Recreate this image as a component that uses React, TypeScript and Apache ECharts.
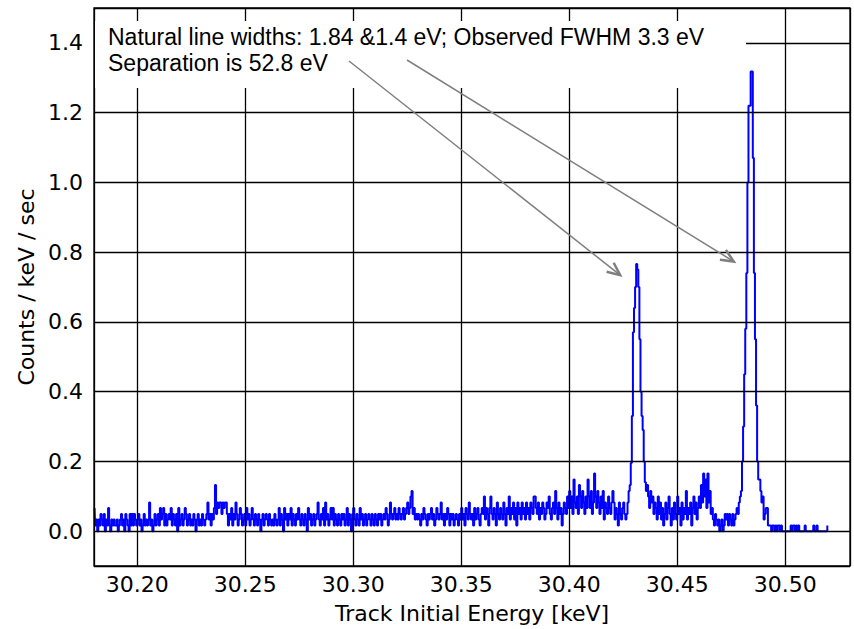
import React, { useEffect, useRef } from "react";
import * as echarts from "echarts";

// Histogram bins: 0.5 eV wide, starting at 30.180 keV
const binStart = 30.18;
const binWidth = 0.0005;

// 30.180 - 30.250 keV
const segA = [
  0.066, 0.016, 0.033, 0, 0.033, 0.016, 0.049, 0.033, 0.016, 0.049,
  0, 0.033, 0.016, 0.066, 0.016, 0, 0.033, 0.016, 0.033, 0.016,
  0.016, 0.033, 0, 0.016, 0.033, 0.049, 0.016, 0.033, 0, 0.049,
  0.033, 0.016, 0, 0.049, 0.016, 0.049, 0.016, 0.049, 0.033, 0.016,
  0.033, 0.049, 0.016, 0.033, 0, 0.016, 0.049, 0.016, 0.033, 0.016,
  0.033, 0.082, 0.016, 0.033, 0, 0.016, 0.049, 0.016, 0.033, 0.049,
  0.016, 0.066, 0.033, 0.049, 0.066, 0.016, 0.049, 0.016, 0.033, 0.049,
  0.033, 0.066, 0.016, 0.049, 0.033, 0.016, 0.049, 0, 0.066, 0.016,
  0.033, 0.049, 0.016, 0.033, 0.066, 0.049, 0.016, 0.033, 0.049, 0.016,
  0.033, 0.016, 0.049, 0.033, 0, 0.033, 0.049, 0.016, 0.033, 0.016,
  0.049, 0.033, 0.016, 0.033, 0.049, 0.082, 0.033, 0.049, 0.016, 0.049,
  0.033, 0.066, 0.132, 0.049, 0.082, 0.066, 0.082, 0.082, 0.049, 0.082,
  0.066, 0.082, 0.082, 0.049, 0.016, 0.049, 0.033, 0.066, 0.016, 0.049,
  0.033, 0.082, 0.049, 0.016, 0.033, 0.066, 0.049, 0.016, 0.033, 0.049,
];

// 30.250 - 30.320 keV
const segB = [
  0.016, 0.066, 0.033, 0.049, 0.016, 0.033, 0.066, 0.033, 0.016, 0.049,
  0.033, 0.016, 0.049, 0.033, 0, 0.033, 0.049, 0.016, 0.033, 0.049,
  0.033, 0.016, 0.049, 0.033, 0.016, 0.033, 0.016, 0.049, 0.033, 0.016,
  0.033, 0.066, 0.016, 0.049, 0.033, 0, 0.066, 0.033, 0.049, 0.016,
  0.049, 0.033, 0.066, 0.016, 0.049, 0.033, 0.016, 0.049, 0.033, 0.066,
  0.033, 0.016, 0.049, 0.033, 0.016, 0.049, 0.033, 0, 0.066, 0.033,
  0.049, 0.016, 0.033, 0.049, 0.016, 0.033, 0.049, 0.082, 0.033, 0.016,
  0.049, 0.033, 0.066, 0.016, 0.082, 0.033, 0.049, 0.016, 0.033, 0.066,
  0.033, 0.066, 0.016, 0.049, 0.033, 0.016, 0.049, 0.033, 0.016, 0.049,
  0.033, 0.049, 0.016, 0.033, 0.066, 0.016, 0.049, 0.033, 0, 0.049,
  0.066, 0.033, 0.016, 0.049, 0.033, 0.016, 0.066, 0.033, 0.049, 0.016,
  0.033, 0.049, 0.016, 0.033, 0.049, 0.033, 0.016, 0.049, 0.033, 0.016,
  0.049, 0.033, 0.016, 0.049, 0.033, 0.049, 0.016, 0.033, 0.049, 0.033,
  0.066, 0.049, 0.016, 0.033, 0.082, 0.049, 0.033, 0.049, 0.066, 0.033,
];

// 30.320 - 30.400 keV
const segC = [
  0.049, 0.033, 0.066, 0.049, 0.033, 0.049, 0.066, 0.033, 0.049, 0.066,
  0.082, 0.049, 0.066, 0.099, 0.115, 0.049, 0.066, 0.033, 0.049, 0.033,
  0.049, 0.033, 0.016, 0.049, 0.033, 0.066, 0.049, 0.033, 0.016, 0.049,
  0.033, 0.049, 0.066, 0.033, 0.049, 0.016, 0.033, 0.066, 0.049, 0.033,
  0.049, 0.082, 0.033, 0.049, 0.016, 0.049, 0.033, 0.066, 0.049, 0.016,
  0.049, 0.033, 0.049, 0.016, 0.033, 0.049, 0.033, 0.016, 0.049, 0.033,
  0.066, 0.033, 0.049, 0.016, 0.066, 0.049, 0.033, 0.082, 0.049, 0.033,
  0.049, 0.016, 0.066, 0.033, 0.049, 0.066, 0.033, 0.016, 0.049, 0.066,
  0.049, 0.099, 0.033, 0.066, 0.049, 0.016, 0.066, 0.099, 0.049, 0.033,
  0.066, 0.049, 0.016, 0.082, 0.049, 0.033, 0.066, 0.049, 0.033, 0.082,
  0.049, 0.016, 0.066, 0.049, 0.099, 0.033, 0.066, 0.049, 0.082, 0.033,
  0.066, 0.016, 0.082, 0.049, 0.066, 0.033, 0.082, 0.049, 0.066, 0.033,
  0.082, 0.049, 0.066, 0.033, 0.082, 0.066, 0.049, 0.099, 0.099, 0.066,
  0.049, 0.082, 0.033, 0.066, 0.049, 0.082, 0.066, 0.033, 0.049, 0.082,
  0.066, 0.099, 0.049, 0.033, 0.066, 0.082, 0.049, 0.115, 0.066, 0.033,
  0.082, 0.049, 0.066, 0.016, 0.049, 0.082, 0.066, 0.049, 0.099, 0.066,
];

// 30.400 - 30.460 keV (first line)
const segD = [
  0.115, 0.066, 0.099, 0.049, 0.148, 0.082, 0.066, 0.099, 0.049, 0.132,
  0.099, 0.066, 0.115, 0.082, 0.049, 0.099, 0.066, 0.148, 0.099, 0.066,
  0.115, 0.049, 0.082, 0.165, 0.099, 0.066, 0.115, 0.082, 0.049, 0.099,
  0.066, 0.115, 0.033, 0.082, 0.066, 0.049, 0.099, 0.066, 0.049, 0.082,
  0.115, 0.082, 0.033, 0.066, 0.049, 0.016, 0.082, 0.049, 0.033, 0.066,
  0.082, 0.049, 0.033, 0.049, 0.082, 0.115, 0.132, 0.195, 0.33, 0.57,
  0.64, 0.70, 0.766, 0.75, 0.70, 0.55, 0.40, 0.33, 0.29, 0.20,
  0.14, 0.115, 0.132, 0.099, 0.066, 0.115, 0.082, 0.099, 0.049, 0.082,
  0.066, 0.033, 0.099, 0.049, 0.082, 0.033, 0.066, 0.016, 0.049, 0.082,
  0.033, 0.066, 0.099, 0.049, 0.016, 0.066, 0.033, 0.082, 0.049, 0.033,
  0.099, 0.049, 0.066, 0.016, 0.082, 0.033, 0.066, 0.049, 0.115, 0.033,
  0.066, 0.049, 0.082, 0.016, 0.066, 0.099, 0.049, 0.082, 0.033, 0.066,
];

// 30.460 - 30.520 keV (second line and tail)
const segE = [
  0.099, 0.066, 0.132, 0.082, 0.165, 0.099, 0.148, 0.066, 0.165, 0.082,
  0.115, 0.049, 0.066, 0.033, 0.016, 0.049, 0.033, 0.016, 0.033, 0,
  0.016, 0.033, 0, 0.016, 0.049, 0.033, 0.049, 0.016, 0.049, 0.033,
  0.016, 0.049, 0.016, 0.033, 0.049, 0.066, 0.049, 0.082, 0.099, 0.115,
  0.2, 0.3, 0.45, 0.58, 0.74, 1.0, 1.22, 1.22, 1.318, 1.318,
  1.07, 0.74, 0.55, 0.36, 0.2, 0.148, 0.148, 0.115, 0.082, 0.099,
  0.033, 0.049, 0.066, 0.066, 0.016, 0.016, 0.016, 0, 0.016, 0.016,
  0, 0.016, 0, 0.016, 0.016, 0, 0.016, 0, 0, 0,
  0, 0, 0, 0, 0, 0.016, 0, 0.016, 0.016, 0,
  0.016, 0, 0.016, 0, 0, 0, 0, 0, 0.016, 0,
  0, 0, 0, 0, 0, 0, 0.016, 0, 0, 0.016,
  0, 0, 0, 0, 0, 0, 0, 0, 0, 0.016,
];

const xRange = [30.18, 30.53];
const yRange = [-0.1, 1.5];
const xStep = 0.05;
const yStep = 0.2;

const annotationLines = [
  "Natural line widths: 1.84 &1.4 eV; Observed FWHM 3.3 eV",
  "Separation is 52.8 eV",
];
// arrow targets in data coordinates (energy keV, counts)
const arrowTargets = [
  [30.4236, 0.734],
  [30.4762, 0.773],
];
// arrow tails in pixels (anchored on the annotation text)
const arrowTails = [
  [349, 61],
  [407, 60],
];

export default function App() {
  const ref = useRef<HTMLDivElement>(null);
  useEffect(() => {
    const chart = echarts.init(ref.current!, null, { renderer: "svg" });
    const counts = [...segA, ...segB, ...segC, ...segD, ...segE];
    const data = counts.map((v, i) => [binStart + (i + 0.5) * binWidth, v]);
    const tickFont = {
      fontFamily: "DejaVu Sans",
      fontSize: 22,
      color: "#000",
    };
    chart.setOption({
      animation: false,
      backgroundColor: "#fff",
      grid: {
        left: 94,
        right: 4,
        top: 8,
        bottom: 63,
        show: true,
        borderColor: "#000",
        borderWidth: 1.3,
        backgroundColor: "transparent",
      },
      xAxis: {
        type: "value",
        min: xRange[0],
        max: xRange[1],
        splitNumber: 7,
        minInterval: xStep,
        maxInterval: xStep,
        z: 3,
        axisLine: { show: false },
        axisTick: { show: false },
        axisLabel: {
          ...tickFont,
          margin: 7,
          showMinLabel: false,
          showMaxLabel: false,
          formatter: (v: number) => v.toFixed(2),
        },
        splitLine: { show: true, lineStyle: { color: "#000", width: 1.3 } },
        name: "Track Initial Energy [keV]",
        nameLocation: "middle",
        nameGap: 36,
        nameTextStyle: { fontFamily: "DejaVu Sans", fontSize: 22, color: "#000" },
      },
      yAxis: {
        type: "value",
        min: yRange[0],
        max: yRange[1],
        splitNumber: 8,
        minInterval: yStep,
        maxInterval: yStep,
        z: 3,
        axisLine: { show: false },
        axisTick: { show: false },
        axisLabel: {
          ...tickFont,
          margin: 11,
          showMinLabel: false,
          showMaxLabel: false,
          formatter: (v: number) => v.toFixed(1),
        },
        splitLine: { show: true, lineStyle: { color: "#000", width: 1.3 } },
        name: "Counts / keV / sec",
        nameLocation: "middle",
        nameGap: 56,
        nameTextStyle: { fontFamily: "DejaVu Sans", fontSize: 22, color: "#000" },
      },
      series: [
        {
          type: "line",
          data,
          step: "middle",
          showSymbol: false,
          symbol: "none",
          z: 2,
          lineStyle: { color: "#0000ff", width: 2 },
          clip: true,
        },
      ],
    });

    const tips = arrowTargets.map((t) =>
      chart.convertToPixel({ gridIndex: 0 }, t) as number[]
    );
    const gray = "#7f7f7f";
    const arrowEls: any[] = [];
    tips.forEach((tip, k) => {
      const tail = arrowTails[k];
      const th = Math.atan2(tip[1] - tail[1], tip[0] - tail[0]);
      const L = 14;
      const a = (24 * Math.PI) / 180;
      const w1 = [tip[0] - L * Math.cos(th - a), tip[1] - L * Math.sin(th - a)];
      const w2 = [tip[0] - L * Math.cos(th + a), tip[1] - L * Math.sin(th + a)];
      arrowEls.push({
        type: "line",
        z: 12,
        shape: { x1: tail[0], y1: tail[1], x2: tip[0], y2: tip[1] },
        style: { stroke: gray, lineWidth: 1.5 },
      });
      arrowEls.push({
        type: "polyline",
        z: 12,
        shape: { points: [w1, tip, w2] },
        style: { stroke: gray, lineWidth: 2.5, fill: null },
      });
    });

    chart.setOption({
      graphic: [
        {
          type: "rect",
          z: 10,
          shape: { x: 95, y: 21, width: 651, height: 67 },
          style: { fill: "#fff" },
        },
        {
          type: "text",
          z: 11,
          x: 108,
          y: 37,
          style: {
            text: annotationLines[0],
            font: '23px "Liberation Sans"',
            fill: "#000",
            verticalAlign: "middle",
          },
        },
        {
          type: "text",
          z: 11,
          x: 108,
          y: 62.5,
          style: {
            text: annotationLines[1],
            font: '23px "Liberation Sans"',
            fill: "#000",
            verticalAlign: "middle",
          },
        },
        ...arrowEls,
      ],
    });
    return () => chart.dispose();
  }, []);
  return (
    <div
      ref={ref}
      style={{ position: "fixed", left: 0, top: 0, width: 854, height: 629 }}
    />
  );
}
